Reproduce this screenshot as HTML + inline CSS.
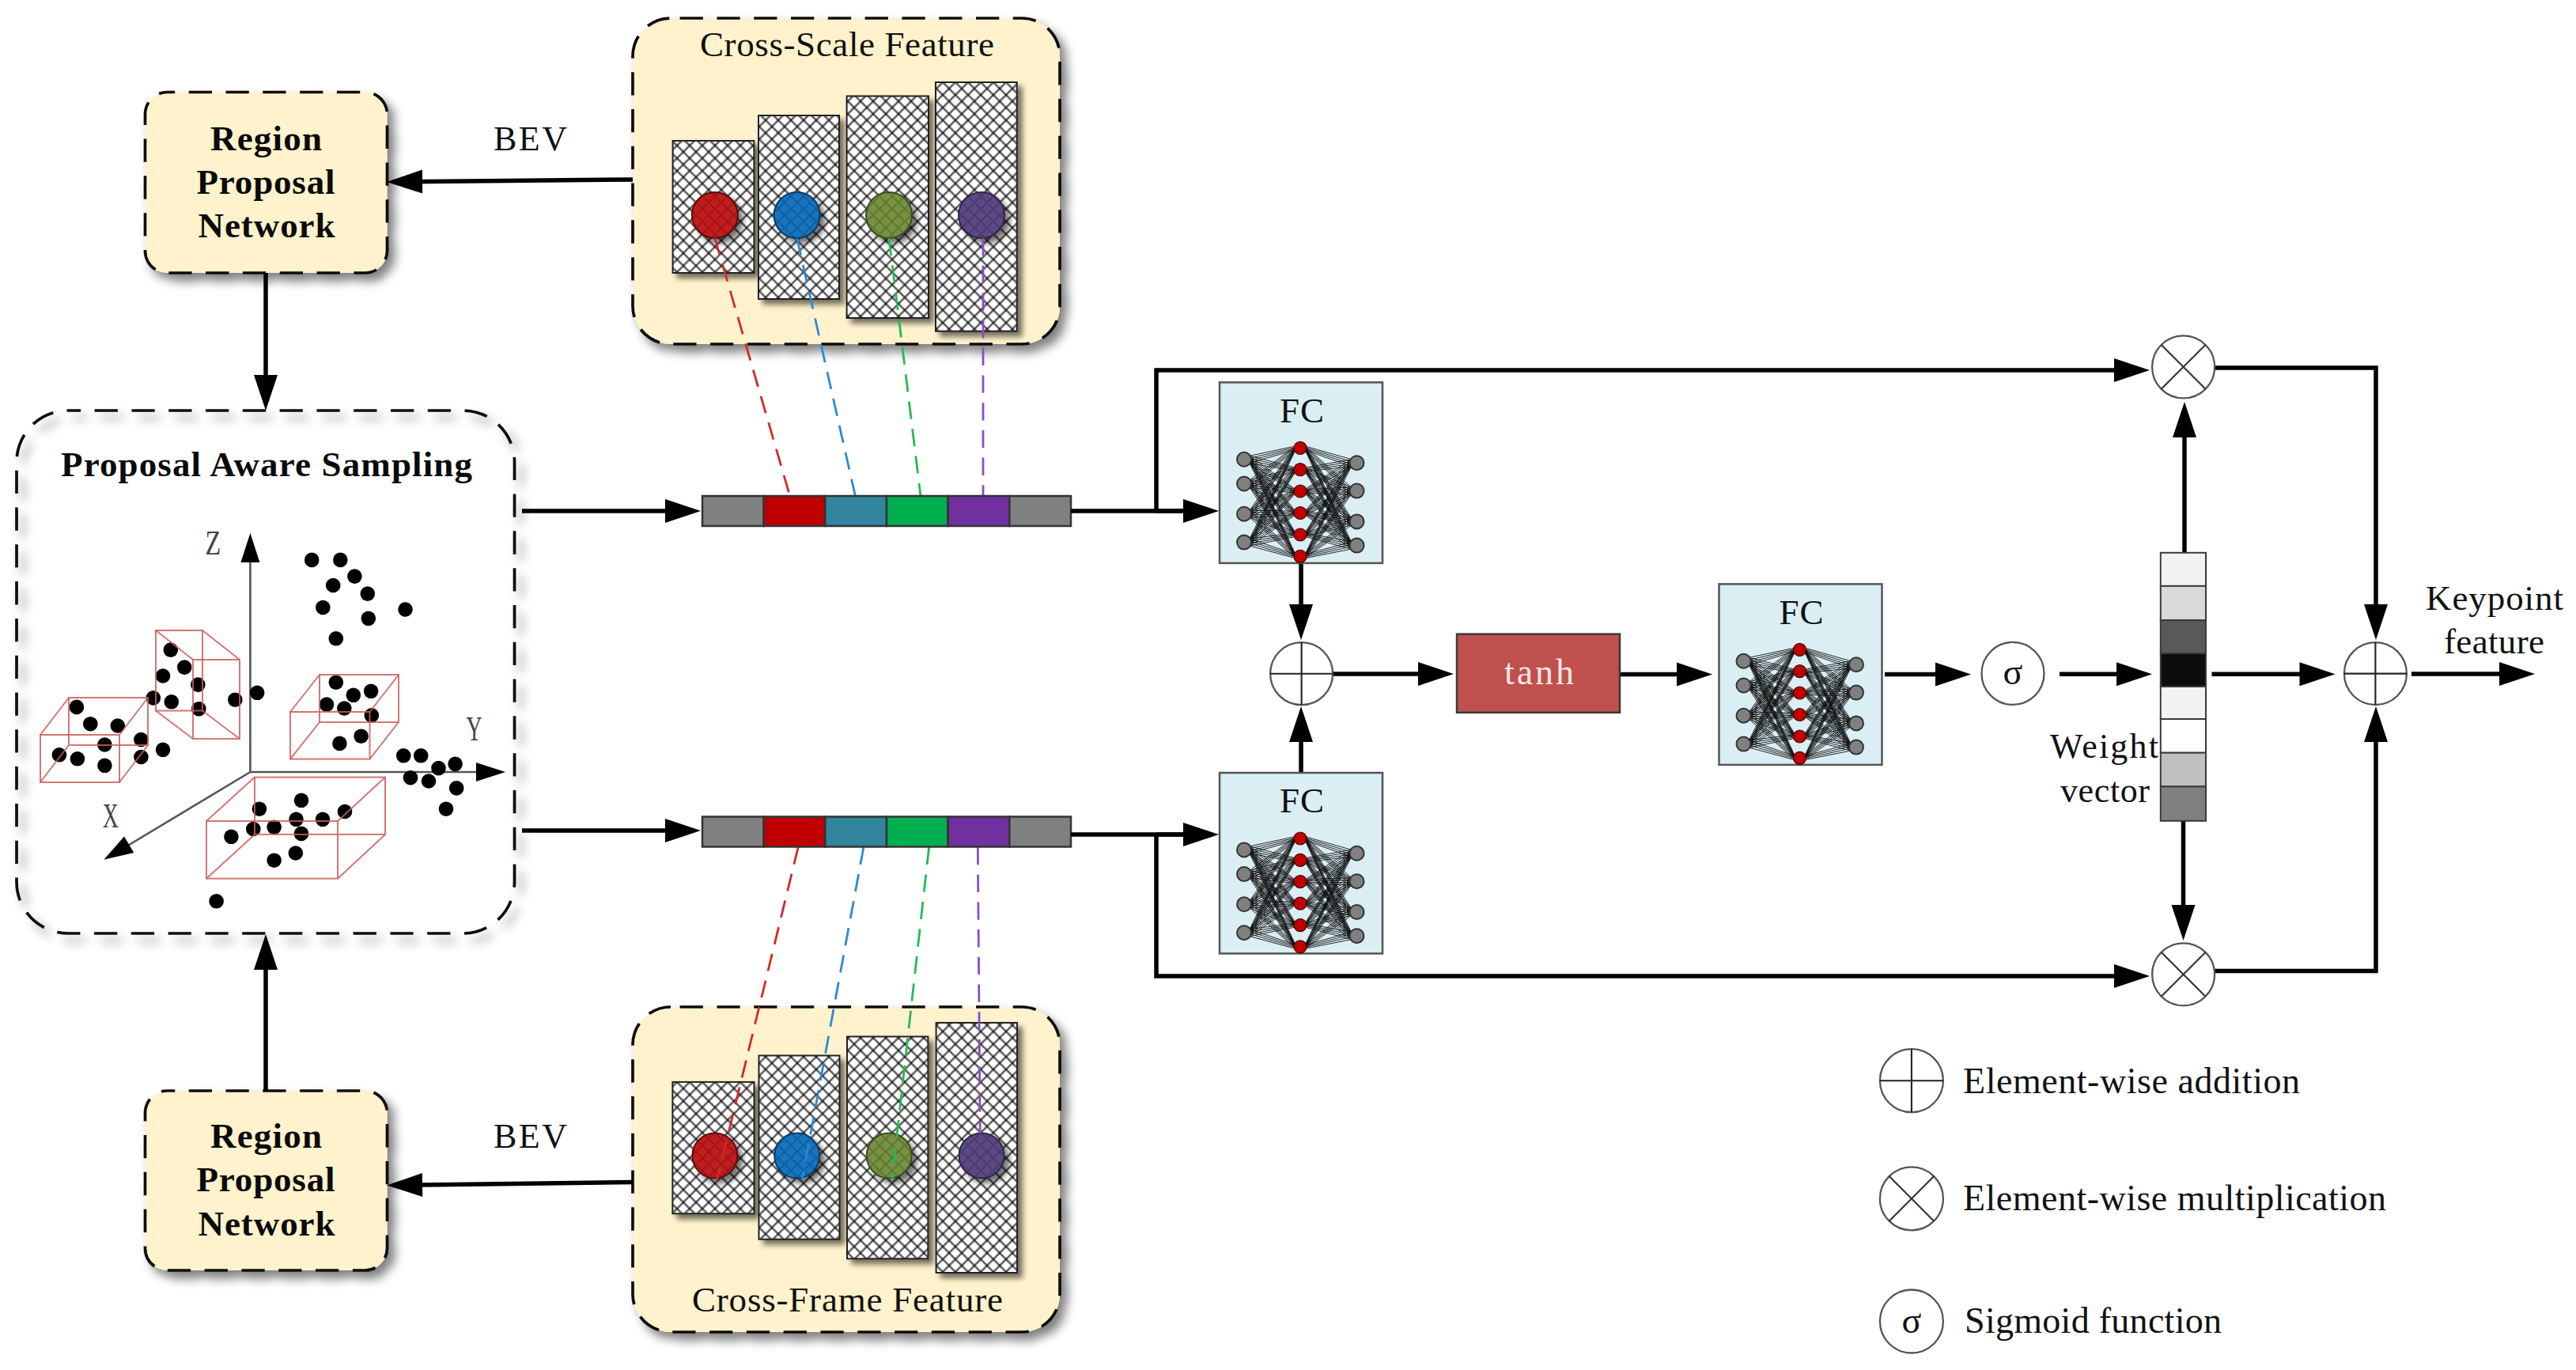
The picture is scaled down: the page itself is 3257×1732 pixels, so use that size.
<!DOCTYPE html>
<html><head><meta charset="utf-8"><title>Diagram</title>
<style>
html,body{margin:0;padding:0;background:#fff;}
body{width:3257px;height:1732px;overflow:hidden;font-family:"Liberation Serif", serif;}
svg{display:block;}
</style></head><body>
<svg width="3257" height="1732" viewBox="0 0 3257 1732">
<defs>
<pattern id="hatch" patternUnits="userSpaceOnUse" width="16" height="16">
<rect width="16" height="16" fill="#fff"/>
<path d="M0,0 L16,16 M-8,8 L8,24 M8,-8 L24,8" stroke="#000" stroke-opacity="0.58" stroke-width="2.7"/>
<path d="M16,0 L0,16 M8,-8 L-8,8 M24,8 L8,24" stroke="#000" stroke-opacity="0.58" stroke-width="2.7"/>
</pattern>
<pattern id="hatch2" patternUnits="userSpaceOnUse" width="16" height="16">
<path d="M0,0 L16,16 M16,0 L0,16 M-8,8 L8,24 M8,-8 L24,8 M8,-8 L-8,8 M24,8 L8,24" stroke="#000" stroke-opacity="0.18" stroke-width="2.2"/>
</pattern>
<filter id="sh" x="-10%" y="-10%" width="130%" height="130%">
<feGaussianBlur in="SourceAlpha" stdDeviation="6.5"/>
<feOffset dx="8" dy="9" result="o"/>
<feComponentTransfer><feFuncA type="linear" slope="0.5"/></feComponentTransfer>
<feMerge><feMergeNode/><feMergeNode in="SourceGraphic"/></feMerge>
</filter>
<filter id="sh2" x="-10%" y="-10%" width="130%" height="130%">
<feGaussianBlur in="SourceAlpha" stdDeviation="3.5"/>
<feOffset dx="6" dy="6" result="o"/>
<feComponentTransfer><feFuncA type="linear" slope="0.55"/></feComponentTransfer>
<feMerge><feMergeNode/><feMergeNode in="SourceGraphic"/></feMerge>
</filter>
</defs>
<rect width="3257" height="1732" fill="#fff"/>
<rect x="183.5" y="116.5" width="306" height="228.5" rx="28" fill="#fff2cc" stroke="#111" stroke-width="3.7" stroke-dasharray="29.3 17.5" stroke-dashoffset="19.6" filter="url(#sh)"/><rect x="183.5" y="1379" width="306" height="227" rx="28" fill="#fff2cc" stroke="#111" stroke-width="3.7" stroke-dasharray="29.3 17.5" stroke-dashoffset="19.6" filter="url(#sh)"/><rect x="800" y="23" width="540" height="412" rx="48" fill="#fff2cc" stroke="#111" stroke-width="3.7" stroke-dasharray="29.3 17.5" stroke-dashoffset="35.2" filter="url(#sh)"/><rect x="800" y="1273" width="540" height="411" rx="48" fill="#fff2cc" stroke="#111" stroke-width="3.7" stroke-dasharray="29.3 17.5" stroke-dashoffset="35.2" filter="url(#sh)"/><rect x="21" y="519" width="629.5" height="661" rx="65" fill="none" stroke="#111" stroke-width="3.7" stroke-dasharray="29.3 17.5" stroke-dashoffset="13.2" filter="url(#sh)"/><rect x="850.6" y="178" width="102.8" height="167.0" fill="url(#hatch)" stroke="#222" stroke-width="2" filter="url(#sh2)"/><rect x="959" y="146" width="102.0" height="232.0" fill="url(#hatch)" stroke="#222" stroke-width="2" filter="url(#sh2)"/><rect x="1070.6" y="121.5" width="103.4" height="280.5" fill="url(#hatch)" stroke="#222" stroke-width="2" filter="url(#sh2)"/><rect x="1183" y="104" width="102.7" height="314.7" fill="url(#hatch)" stroke="#222" stroke-width="2" filter="url(#sh2)"/><circle cx="903.8" cy="272" r="29" fill="#c41a1c" stroke="#5a0a0a" stroke-width="2" filter="url(#sh2)"/><circle cx="903.8" cy="272" r="28" fill="url(#hatch2)"/><circle cx="1007.6" cy="272" r="29" fill="#1874c1" stroke="#0b3a63" stroke-width="2" filter="url(#sh2)"/><circle cx="1007.6" cy="272" r="28" fill="url(#hatch2)"/><circle cx="1124" cy="272" r="29" fill="#779241" stroke="#3a4a20" stroke-width="2" filter="url(#sh2)"/><circle cx="1124" cy="272" r="28" fill="url(#hatch2)"/><circle cx="1241" cy="272" r="29" fill="#5b4a86" stroke="#2e2545" stroke-width="2" filter="url(#sh2)"/><circle cx="1241" cy="272" r="28" fill="url(#hatch2)"/><rect x="850.4" y="1367.9" width="103.1" height="166.4" fill="url(#hatch)" stroke="#222" stroke-width="2" filter="url(#sh2)"/><rect x="959.5" y="1334.5" width="102.0" height="232.2" fill="url(#hatch)" stroke="#222" stroke-width="2" filter="url(#sh2)"/><rect x="1071" y="1310.5" width="102.4" height="280.8" fill="url(#hatch)" stroke="#222" stroke-width="2" filter="url(#sh2)"/><rect x="1183.6" y="1293" width="102.4" height="316.0" fill="url(#hatch)" stroke="#222" stroke-width="2" filter="url(#sh2)"/><circle cx="903.9" cy="1461" r="28.5" fill="#c41a1c" stroke="#5a0a0a" stroke-width="2" filter="url(#sh2)"/><circle cx="903.9" cy="1461" r="27.5" fill="url(#hatch2)"/><circle cx="1007.7" cy="1461" r="28.5" fill="#1874c1" stroke="#0b3a63" stroke-width="2" filter="url(#sh2)"/><circle cx="1007.7" cy="1461" r="27.5" fill="url(#hatch2)"/><circle cx="1124.2" cy="1461" r="28.5" fill="#779241" stroke="#3a4a20" stroke-width="2" filter="url(#sh2)"/><circle cx="1124.2" cy="1461" r="27.5" fill="url(#hatch2)"/><circle cx="1241" cy="1461" r="28.5" fill="#5b4a86" stroke="#2e2545" stroke-width="2" filter="url(#sh2)"/><circle cx="1241" cy="1461" r="27.5" fill="url(#hatch2)"/><line x1="903.8" y1="301" x2="998.7" y2="627" stroke="#d12a2a" stroke-width="2.8" stroke-dasharray="22.3 12.4"/><line x1="1007.6" y1="301" x2="1081.4" y2="627" stroke="#2a8ad6" stroke-width="2.8" stroke-dasharray="22.3 12.4"/><line x1="1124" y1="301" x2="1164" y2="627" stroke="#22bb55" stroke-width="2.8" stroke-dasharray="22.3 12.4"/><line x1="1243" y1="301" x2="1243" y2="627" stroke="#8a4fc0" stroke-width="2.8" stroke-dasharray="22.3 12.4"/><line x1="1009.2" y1="1071" x2="906.7" y2="1491" stroke="#d12a2a" stroke-width="2.8" stroke-dasharray="22.3 12.4"/><line x1="1091.9" y1="1071" x2="1014" y2="1492" stroke="#2a8ad6" stroke-width="2.8" stroke-dasharray="22.3 12.4"/><line x1="1174.6" y1="1071" x2="1127.7" y2="1492" stroke="#22bb55" stroke-width="2.8" stroke-dasharray="22.3 12.4"/><line x1="1236.3" y1="1071" x2="1239.2" y2="1433" stroke="#8a4fc0" stroke-width="2.8" stroke-dasharray="22.3 12.4"/><rect x="888.0" y="627" width="77.7" height="38" fill="#808080" stroke="#333" stroke-width="2.5"/><rect x="965.7" y="627" width="77.7" height="38" fill="#c00000" stroke="#333" stroke-width="2.5"/><rect x="1043.3" y="627" width="77.7" height="38" fill="#31859c" stroke="#333" stroke-width="2.5"/><rect x="1121.0" y="627" width="77.7" height="38" fill="#00b050" stroke="#333" stroke-width="2.5"/><rect x="1198.7" y="627" width="77.7" height="38" fill="#7030a0" stroke="#333" stroke-width="2.5"/><rect x="1276.3" y="627" width="77.7" height="38" fill="#808080" stroke="#333" stroke-width="2.5"/><rect x="888.0" y="1032.5" width="77.7" height="38" fill="#808080" stroke="#333" stroke-width="2.5"/><rect x="965.7" y="1032.5" width="77.7" height="38" fill="#c00000" stroke="#333" stroke-width="2.5"/><rect x="1043.3" y="1032.5" width="77.7" height="38" fill="#31859c" stroke="#333" stroke-width="2.5"/><rect x="1121.0" y="1032.5" width="77.7" height="38" fill="#00b050" stroke="#333" stroke-width="2.5"/><rect x="1198.7" y="1032.5" width="77.7" height="38" fill="#7030a0" stroke="#333" stroke-width="2.5"/><rect x="1276.3" y="1032.5" width="77.7" height="38" fill="#808080" stroke="#333" stroke-width="2.5"/><line x1="316.4" y1="976" x2="316.4" y2="700" stroke="#555" stroke-width="2.6"/><polygon points="316.4,674.0 328.4,711.0 304.4,711.0" fill="#000"/><line x1="316.4" y1="976" x2="615" y2="976" stroke="#555" stroke-width="2.6"/><polygon points="639.0,976.0 602.0,988.0 602.0,964.0" fill="#000"/><line x1="316.4" y1="976" x2="150" y2="1076" stroke="#555" stroke-width="2.6"/><polygon points="131.4,1086.7 157.0,1057.4 169.3,1078.0" fill="#000"/><circle cx="394.2" cy="707.9" r="9.3" fill="#000"/><circle cx="430.3" cy="707.9" r="9.3" fill="#000"/><circle cx="448.4" cy="728.6" r="9.3" fill="#000"/><circle cx="421.2" cy="740" r="9.3" fill="#000"/><circle cx="464.8" cy="750.6" r="9.3" fill="#000"/><circle cx="408.3" cy="768" r="9.3" fill="#000"/><circle cx="512.5" cy="770.5" r="9.3" fill="#000"/><circle cx="465.8" cy="781.8" r="9.3" fill="#000"/><circle cx="424.8" cy="807.3" r="9.3" fill="#000"/><circle cx="215.8" cy="821.6" r="9.3" fill="#000"/><circle cx="233.2" cy="843.6" r="9.3" fill="#000"/><circle cx="206" cy="854.5" r="9.3" fill="#000"/><circle cx="250.3" cy="865.6" r="9.3" fill="#000"/><circle cx="193.8" cy="882.4" r="9.3" fill="#000"/><circle cx="216.8" cy="887.3" r="9.3" fill="#000"/><circle cx="251.3" cy="896.2" r="9.3" fill="#000"/><circle cx="297.3" cy="884.7" r="9.3" fill="#000"/><circle cx="325.2" cy="875.8" r="9.3" fill="#000"/><circle cx="96.9" cy="893.9" r="9.3" fill="#000"/><circle cx="114.3" cy="915.2" r="9.3" fill="#000"/><circle cx="148.8" cy="917.5" r="9.3" fill="#000"/><circle cx="178.4" cy="935" r="9.3" fill="#000"/><circle cx="132.4" cy="941.5" r="9.3" fill="#000"/><circle cx="206" cy="947.8" r="9.3" fill="#000"/><circle cx="74.9" cy="954.3" r="9.3" fill="#000"/><circle cx="97.9" cy="959.3" r="9.3" fill="#000"/><circle cx="178.4" cy="957" r="9.3" fill="#000"/><circle cx="132.4" cy="967.8" r="9.3" fill="#000"/><circle cx="424.8" cy="862.7" r="9.3" fill="#000"/><circle cx="469.1" cy="873.8" r="9.3" fill="#000"/><circle cx="446.8" cy="878.8" r="9.3" fill="#000"/><circle cx="413" cy="890.6" r="9.3" fill="#000"/><circle cx="435.3" cy="895.5" r="9.3" fill="#000"/><circle cx="469.8" cy="904.4" r="9.3" fill="#000"/><circle cx="456.6" cy="930.7" r="9.3" fill="#000"/><circle cx="429.4" cy="939.9" r="9.3" fill="#000"/><circle cx="510.2" cy="955.3" r="9.3" fill="#000"/><circle cx="532.2" cy="955.3" r="9.3" fill="#000"/><circle cx="575.6" cy="965.8" r="9.3" fill="#000"/><circle cx="554.5" cy="971.1" r="9.3" fill="#000"/><circle cx="519" cy="983.2" r="9.3" fill="#000"/><circle cx="542" cy="987.5" r="9.3" fill="#000"/><circle cx="577.2" cy="996.4" r="9.3" fill="#000"/><circle cx="564" cy="1022.7" r="9.3" fill="#000"/><circle cx="381" cy="1011.8" r="9.3" fill="#000"/><circle cx="327.9" cy="1022.7" r="9.3" fill="#000"/><circle cx="436" cy="1026" r="9.3" fill="#000"/><circle cx="374.5" cy="1035.8" r="9.3" fill="#000"/><circle cx="408" cy="1035.8" r="9.3" fill="#000"/><circle cx="320.3" cy="1048" r="9.3" fill="#000"/><circle cx="346.6" cy="1045.7" r="9.3" fill="#000"/><circle cx="381" cy="1053.9" r="9.3" fill="#000"/><circle cx="292.4" cy="1057.8" r="9.3" fill="#000"/><circle cx="373.8" cy="1078.5" r="9.3" fill="#000"/><circle cx="346.6" cy="1087.7" r="9.3" fill="#000"/><circle cx="273.6" cy="1139.3" r="9.3" fill="#000"/><g stroke-opacity="0.85"><rect x="51" y="929" width="100.0" height="60.0" fill="none" stroke="#c9605c" stroke-width="2"/><rect x="87" y="882" width="100.0" height="60.0" fill="none" stroke="#c9605c" stroke-width="2"/><line x1="51" y1="929" x2="87" y2="882" stroke="#c9605c" stroke-width="2"/><line x1="151" y1="929" x2="187" y2="882" stroke="#c9605c" stroke-width="2"/><line x1="51" y1="989" x2="87" y2="942" stroke="#c9605c" stroke-width="2"/><line x1="151" y1="989" x2="187" y2="942" stroke="#c9605c" stroke-width="2"/><rect x="197" y="797" width="59.0" height="101.5" fill="none" stroke="#c9605c" stroke-width="2"/><rect x="244" y="834" width="59.0" height="100.0" fill="none" stroke="#c9605c" stroke-width="2"/><line x1="197" y1="797" x2="244" y2="834" stroke="#c9605c" stroke-width="2"/><line x1="256" y1="797" x2="303" y2="834" stroke="#c9605c" stroke-width="2"/><line x1="197" y1="898.5" x2="244" y2="934" stroke="#c9605c" stroke-width="2"/><line x1="256" y1="898.5" x2="303" y2="934" stroke="#c9605c" stroke-width="2"/><rect x="404" y="853" width="100.0" height="60.0" fill="none" stroke="#c9605c" stroke-width="2"/><rect x="367" y="900" width="100.5" height="59.6" fill="none" stroke="#c9605c" stroke-width="2"/><line x1="404" y1="853" x2="367" y2="900" stroke="#c9605c" stroke-width="2"/><line x1="504" y1="853" x2="467.5" y2="900" stroke="#c9605c" stroke-width="2"/><line x1="404" y1="913" x2="367" y2="959.6" stroke="#c9605c" stroke-width="2"/><line x1="504" y1="913" x2="467.5" y2="959.6" stroke="#c9605c" stroke-width="2"/><rect x="322" y="982.6" width="165.0" height="72.3" fill="none" stroke="#c9605c" stroke-width="2"/><rect x="261" y="1038" width="166.0" height="72.7" fill="none" stroke="#c9605c" stroke-width="2"/><line x1="322" y1="982.6" x2="261" y2="1038" stroke="#c9605c" stroke-width="2"/><line x1="487" y1="982.6" x2="427" y2="1038" stroke="#c9605c" stroke-width="2"/><line x1="322" y1="1054.9" x2="261" y2="1110.7" stroke="#c9605c" stroke-width="2"/><line x1="487" y1="1054.9" x2="427" y2="1110.7" stroke="#c9605c" stroke-width="2"/></g><text transform="translate(269.3,701) scale(0.72,1)" font-family='"Liberation Serif", serif' font-size="45" text-anchor="middle" fill="#444">Z</text><text transform="translate(599.5,935.5) scale(0.62,1)" font-family='"Liberation Serif", serif' font-size="45" text-anchor="middle" fill="#444">Y</text><text transform="translate(139.7,1045.6) scale(0.62,1)" font-family='"Liberation Serif", serif' font-size="45" text-anchor="middle" fill="#444">X</text><polyline points="800.0,227.0 516.0,229.7" fill="none" stroke="#000" stroke-width="5.5" stroke-linejoin="miter" stroke-linecap="butt"/><polygon points="489.0,230.0 533.9,214.6 534.1,244.6" fill="#000"/><polyline points="336.0,345.0 336.0,492.0" fill="none" stroke="#000" stroke-width="5.5" stroke-linejoin="miter" stroke-linecap="butt"/><polygon points="336.0,519.0 321.0,474.0 351.0,474.0" fill="#000"/><polyline points="800.0,1494.5 516.0,1498.2" fill="none" stroke="#000" stroke-width="5.5" stroke-linejoin="miter" stroke-linecap="butt"/><polygon points="489.0,1498.5 533.8,1482.9 534.2,1512.9" fill="#000"/><polyline points="336.0,1379.0 336.0,1208.0" fill="none" stroke="#000" stroke-width="5.5" stroke-linejoin="miter" stroke-linecap="butt"/><polygon points="336.0,1181.0 351.0,1226.0 321.0,1226.0" fill="#000"/><polyline points="660.0,646.0 859.0,646.0" fill="none" stroke="#000" stroke-width="5.5" stroke-linejoin="miter" stroke-linecap="butt"/><polygon points="886.0,646.0 841.0,661.0 841.0,631.0" fill="#000"/><polyline points="660.0,1050.0 859.0,1050.0" fill="none" stroke="#000" stroke-width="5.5" stroke-linejoin="miter" stroke-linecap="butt"/><polygon points="886.0,1050.0 841.0,1065.0 841.0,1035.0" fill="#000"/><polyline points="1354.0,646.0 1500.0,646.0" fill="none" stroke="#000" stroke-width="5.5" stroke-linejoin="miter"/><polyline points="1462.0,646.0 1514.0,646.0" fill="none" stroke="#000" stroke-width="5.5" stroke-linejoin="miter" stroke-linecap="butt"/><polygon points="1541.0,646.0 1496.0,661.0 1496.0,631.0" fill="#000"/><polyline points="1462.0,646.0 1462.0,468.0 2691.0,468.0" fill="none" stroke="#000" stroke-width="5.5" stroke-linejoin="miter" stroke-linecap="butt"/><polygon points="2718.0,468.0 2673.0,483.0 2673.0,453.0" fill="#000"/><polyline points="1354.0,1055.0 1500.0,1055.0" fill="none" stroke="#000" stroke-width="5.5" stroke-linejoin="miter"/><polyline points="1462.0,1055.0 1514.0,1055.0" fill="none" stroke="#000" stroke-width="5.5" stroke-linejoin="miter" stroke-linecap="butt"/><polygon points="1541.0,1055.0 1496.0,1070.0 1496.0,1040.0" fill="#000"/><polyline points="1462.0,1055.0 1462.0,1234.0 2691.0,1234.0" fill="none" stroke="#000" stroke-width="5.5" stroke-linejoin="miter" stroke-linecap="butt"/><polygon points="2718.0,1234.0 2673.0,1249.0 2673.0,1219.0" fill="#000"/><polyline points="1645.0,712.0 1645.0,782.0" fill="none" stroke="#000" stroke-width="5.5" stroke-linejoin="miter" stroke-linecap="butt"/><polygon points="1645.0,809.0 1630.0,764.0 1660.0,764.0" fill="#000"/><polyline points="1645.0,977.0 1645.0,920.0" fill="none" stroke="#000" stroke-width="5.5" stroke-linejoin="miter" stroke-linecap="butt"/><polygon points="1645.0,893.0 1660.0,938.0 1630.0,938.0" fill="#000"/><polyline points="1684.0,852.0 1811.0,852.0" fill="none" stroke="#000" stroke-width="5.5" stroke-linejoin="miter" stroke-linecap="butt"/><polygon points="1838.0,852.0 1793.0,867.0 1793.0,837.0" fill="#000"/><polyline points="2048.0,852.6 2138.0,852.6" fill="none" stroke="#000" stroke-width="5.5" stroke-linejoin="miter" stroke-linecap="butt"/><polygon points="2165.0,852.6 2120.0,867.6 2120.0,837.6" fill="#000"/><polyline points="2383.0,852.6 2465.0,852.6" fill="none" stroke="#000" stroke-width="5.5" stroke-linejoin="miter" stroke-linecap="butt"/><polygon points="2492.0,852.6 2447.0,867.6 2447.0,837.6" fill="#000"/><polyline points="2604.0,852.2 2694.0,852.2" fill="none" stroke="#000" stroke-width="5.5" stroke-linejoin="miter" stroke-linecap="butt"/><polygon points="2721.0,852.2 2676.0,867.2 2676.0,837.2" fill="#000"/><polyline points="2796.5,852.2 2925.5,852.2" fill="none" stroke="#000" stroke-width="5.5" stroke-linejoin="miter" stroke-linecap="butt"/><polygon points="2952.5,852.2 2907.5,867.2 2907.5,837.2" fill="#000"/><polyline points="3049.0,852.0 3178.0,852.0" fill="none" stroke="#000" stroke-width="5.5" stroke-linejoin="miter" stroke-linecap="butt"/><polygon points="3205.0,852.0 3160.0,867.0 3160.0,837.0" fill="#000"/><polyline points="2762.0,699.0 2762.0,535.0" fill="none" stroke="#000" stroke-width="5.5" stroke-linejoin="miter" stroke-linecap="butt"/><polygon points="2762.0,508.0 2777.0,553.0 2747.0,553.0" fill="#000"/><polyline points="2760.5,1038.0 2760.5,1162.0" fill="none" stroke="#000" stroke-width="5.5" stroke-linejoin="miter" stroke-linecap="butt"/><polygon points="2760.5,1189.0 2745.5,1144.0 2775.5,1144.0" fill="#000"/><polyline points="2799.0,465.0 3004.0,465.0 3004.0,782.0" fill="none" stroke="#000" stroke-width="5.5" stroke-linejoin="miter" stroke-linecap="butt"/><polygon points="3004.0,809.0 2989.0,764.0 3019.0,764.0" fill="#000"/><polyline points="2799.0,1227.5 3004.0,1227.5 3004.0,920.0" fill="none" stroke="#000" stroke-width="5.5" stroke-linejoin="miter" stroke-linecap="butt"/><polygon points="3004.0,893.0 3019.0,938.0 2989.0,938.0" fill="#000"/><rect x="1542" y="483.4" width="206" height="228.5" fill="#daeef3" stroke="#555" stroke-width="2.5"/><text x="1618" y="533.8" font-family='"Liberation Serif", serif' font-size="45" font-weight="normal" text-anchor="start" fill="#111" textLength="56" lengthAdjust="spacing" >FC</text><path d="M1580.0,576.3L1638.0,564.0M1580.0,579.3L1638.0,565.6M1580.0,582.3L1638.0,567.2M1580.0,585.3L1638.0,568.8M1580.0,576.3L1638.0,591.3M1580.0,579.3L1638.0,592.9M1580.0,582.3L1638.0,594.5M1580.0,585.3L1638.0,596.1M1580.0,576.3L1638.0,618.6M1580.0,579.3L1638.0,620.2M1580.0,582.3L1638.0,621.8M1580.0,585.3L1638.0,623.4M1580.0,576.3L1638.0,646.1M1580.0,579.3L1638.0,647.7M1580.0,582.3L1638.0,649.3M1580.0,585.3L1638.0,650.9M1580.0,576.3L1638.0,673.6M1580.0,579.3L1638.0,675.2M1580.0,582.3L1638.0,676.8M1580.0,585.3L1638.0,678.4M1580.0,576.3L1638.0,700.9M1580.0,579.3L1638.0,702.5M1580.0,582.3L1638.0,704.1M1580.0,585.3L1638.0,705.7M1580.0,607.0L1638.0,564.0M1580.0,610.0L1638.0,565.6M1580.0,613.0L1638.0,567.2M1580.0,616.0L1638.0,568.8M1580.0,607.0L1638.0,591.3M1580.0,610.0L1638.0,592.9M1580.0,613.0L1638.0,594.5M1580.0,616.0L1638.0,596.1M1580.0,607.0L1638.0,618.6M1580.0,610.0L1638.0,620.2M1580.0,613.0L1638.0,621.8M1580.0,616.0L1638.0,623.4M1580.0,607.0L1638.0,646.1M1580.0,610.0L1638.0,647.7M1580.0,613.0L1638.0,649.3M1580.0,616.0L1638.0,650.9M1580.0,607.0L1638.0,673.6M1580.0,610.0L1638.0,675.2M1580.0,613.0L1638.0,676.8M1580.0,616.0L1638.0,678.4M1580.0,607.0L1638.0,700.9M1580.0,610.0L1638.0,702.5M1580.0,613.0L1638.0,704.1M1580.0,616.0L1638.0,705.7M1580.0,645.2L1638.0,564.0M1580.0,648.2L1638.0,565.6M1580.0,651.2L1638.0,567.2M1580.0,654.2L1638.0,568.8M1580.0,645.2L1638.0,591.3M1580.0,648.2L1638.0,592.9M1580.0,651.2L1638.0,594.5M1580.0,654.2L1638.0,596.1M1580.0,645.2L1638.0,618.6M1580.0,648.2L1638.0,620.2M1580.0,651.2L1638.0,621.8M1580.0,654.2L1638.0,623.4M1580.0,645.2L1638.0,646.1M1580.0,648.2L1638.0,647.7M1580.0,651.2L1638.0,649.3M1580.0,654.2L1638.0,650.9M1580.0,645.2L1638.0,673.6M1580.0,648.2L1638.0,675.2M1580.0,651.2L1638.0,676.8M1580.0,654.2L1638.0,678.4M1580.0,645.2L1638.0,700.9M1580.0,648.2L1638.0,702.5M1580.0,651.2L1638.0,704.1M1580.0,654.2L1638.0,705.7M1580.0,681.1L1638.0,564.0M1580.0,684.1L1638.0,565.6M1580.0,687.1L1638.0,567.2M1580.0,690.1L1638.0,568.8M1580.0,681.1L1638.0,591.3M1580.0,684.1L1638.0,592.9M1580.0,687.1L1638.0,594.5M1580.0,690.1L1638.0,596.1M1580.0,681.1L1638.0,618.6M1580.0,684.1L1638.0,620.2M1580.0,687.1L1638.0,621.8M1580.0,690.1L1638.0,623.4M1580.0,681.1L1638.0,646.1M1580.0,684.1L1638.0,647.7M1580.0,687.1L1638.0,649.3M1580.0,690.1L1638.0,650.9M1580.0,681.1L1638.0,673.6M1580.0,684.1L1638.0,675.2M1580.0,687.1L1638.0,676.8M1580.0,690.1L1638.0,678.4M1580.0,681.1L1638.0,700.9M1580.0,684.1L1638.0,702.5M1580.0,687.1L1638.0,704.1M1580.0,690.1L1638.0,705.7M1650.0,564.0L1708.5,580.7M1650.0,565.6L1708.5,583.7M1650.0,567.2L1708.5,586.7M1650.0,568.8L1708.5,589.7M1650.0,564.0L1708.5,616.1M1650.0,565.6L1708.5,619.1M1650.0,567.2L1708.5,622.1M1650.0,568.8L1708.5,625.1M1650.0,564.0L1708.5,654.9M1650.0,565.6L1708.5,657.9M1650.0,567.2L1708.5,660.9M1650.0,568.8L1708.5,663.9M1650.0,564.0L1708.5,685.1M1650.0,565.6L1708.5,688.1M1650.0,567.2L1708.5,691.1M1650.0,568.8L1708.5,694.1M1650.0,591.3L1708.5,580.7M1650.0,592.9L1708.5,583.7M1650.0,594.5L1708.5,586.7M1650.0,596.1L1708.5,589.7M1650.0,591.3L1708.5,616.1M1650.0,592.9L1708.5,619.1M1650.0,594.5L1708.5,622.1M1650.0,596.1L1708.5,625.1M1650.0,591.3L1708.5,654.9M1650.0,592.9L1708.5,657.9M1650.0,594.5L1708.5,660.9M1650.0,596.1L1708.5,663.9M1650.0,591.3L1708.5,685.1M1650.0,592.9L1708.5,688.1M1650.0,594.5L1708.5,691.1M1650.0,596.1L1708.5,694.1M1650.0,618.6L1708.5,580.7M1650.0,620.2L1708.5,583.7M1650.0,621.8L1708.5,586.7M1650.0,623.4L1708.5,589.7M1650.0,618.6L1708.5,616.1M1650.0,620.2L1708.5,619.1M1650.0,621.8L1708.5,622.1M1650.0,623.4L1708.5,625.1M1650.0,618.6L1708.5,654.9M1650.0,620.2L1708.5,657.9M1650.0,621.8L1708.5,660.9M1650.0,623.4L1708.5,663.9M1650.0,618.6L1708.5,685.1M1650.0,620.2L1708.5,688.1M1650.0,621.8L1708.5,691.1M1650.0,623.4L1708.5,694.1M1650.0,646.1L1708.5,580.7M1650.0,647.7L1708.5,583.7M1650.0,649.3L1708.5,586.7M1650.0,650.9L1708.5,589.7M1650.0,646.1L1708.5,616.1M1650.0,647.7L1708.5,619.1M1650.0,649.3L1708.5,622.1M1650.0,650.9L1708.5,625.1M1650.0,646.1L1708.5,654.9M1650.0,647.7L1708.5,657.9M1650.0,649.3L1708.5,660.9M1650.0,650.9L1708.5,663.9M1650.0,646.1L1708.5,685.1M1650.0,647.7L1708.5,688.1M1650.0,649.3L1708.5,691.1M1650.0,650.9L1708.5,694.1M1650.0,673.6L1708.5,580.7M1650.0,675.2L1708.5,583.7M1650.0,676.8L1708.5,586.7M1650.0,678.4L1708.5,589.7M1650.0,673.6L1708.5,616.1M1650.0,675.2L1708.5,619.1M1650.0,676.8L1708.5,622.1M1650.0,678.4L1708.5,625.1M1650.0,673.6L1708.5,654.9M1650.0,675.2L1708.5,657.9M1650.0,676.8L1708.5,660.9M1650.0,678.4L1708.5,663.9M1650.0,673.6L1708.5,685.1M1650.0,675.2L1708.5,688.1M1650.0,676.8L1708.5,691.1M1650.0,678.4L1708.5,694.1M1650.0,700.9L1708.5,580.7M1650.0,702.5L1708.5,583.7M1650.0,704.1L1708.5,586.7M1650.0,705.7L1708.5,589.7M1650.0,700.9L1708.5,616.1M1650.0,702.5L1708.5,619.1M1650.0,704.1L1708.5,622.1M1650.0,705.7L1708.5,625.1M1650.0,700.9L1708.5,654.9M1650.0,702.5L1708.5,657.9M1650.0,704.1L1708.5,660.9M1650.0,705.7L1708.5,663.9M1650.0,700.9L1708.5,685.1M1650.0,702.5L1708.5,688.1M1650.0,704.1L1708.5,691.1M1650.0,705.7L1708.5,694.1" stroke="#0e0e0e" stroke-width="0.95" fill="none" stroke-opacity="0.95"/><circle cx="1573" cy="580.8" r="9" fill="#808080" stroke="#333" stroke-width="2"/><circle cx="1573" cy="611.5" r="9" fill="#808080" stroke="#333" stroke-width="2"/><circle cx="1573" cy="649.7" r="9" fill="#808080" stroke="#333" stroke-width="2"/><circle cx="1573" cy="685.5999999999999" r="9" fill="#808080" stroke="#333" stroke-width="2"/><circle cx="1715.5" cy="585.1999999999999" r="9" fill="#808080" stroke="#333" stroke-width="2"/><circle cx="1715.5" cy="620.5999999999999" r="9" fill="#808080" stroke="#333" stroke-width="2"/><circle cx="1715.5" cy="659.4" r="9" fill="#808080" stroke="#333" stroke-width="2"/><circle cx="1715.5" cy="689.5999999999999" r="9" fill="#808080" stroke="#333" stroke-width="2"/><circle cx="1644" cy="566.4" r="8" fill="#c00000" stroke="#400" stroke-width="1.2"/><circle cx="1644" cy="593.6999999999999" r="8" fill="#c00000" stroke="#400" stroke-width="1.2"/><circle cx="1644" cy="621.0" r="8" fill="#c00000" stroke="#400" stroke-width="1.2"/><circle cx="1644" cy="648.5" r="8" fill="#c00000" stroke="#400" stroke-width="1.2"/><circle cx="1644" cy="676.0" r="8" fill="#c00000" stroke="#400" stroke-width="1.2"/><circle cx="1644" cy="703.3" r="8" fill="#c00000" stroke="#400" stroke-width="1.2"/><rect x="1542" y="977" width="206" height="228.5" fill="#daeef3" stroke="#555" stroke-width="2.5"/><text x="1618" y="1027.4" font-family='"Liberation Serif", serif' font-size="45" font-weight="normal" text-anchor="start" fill="#111" textLength="56" lengthAdjust="spacing" >FC</text><path d="M1580.0,1069.9L1638.0,1057.6M1580.0,1072.9L1638.0,1059.2M1580.0,1075.9L1638.0,1060.8M1580.0,1078.9L1638.0,1062.4M1580.0,1069.9L1638.0,1084.9M1580.0,1072.9L1638.0,1086.5M1580.0,1075.9L1638.0,1088.1M1580.0,1078.9L1638.0,1089.7M1580.0,1069.9L1638.0,1112.2M1580.0,1072.9L1638.0,1113.8M1580.0,1075.9L1638.0,1115.4M1580.0,1078.9L1638.0,1117.0M1580.0,1069.9L1638.0,1139.7M1580.0,1072.9L1638.0,1141.3M1580.0,1075.9L1638.0,1142.9M1580.0,1078.9L1638.0,1144.5M1580.0,1069.9L1638.0,1167.2M1580.0,1072.9L1638.0,1168.8M1580.0,1075.9L1638.0,1170.4M1580.0,1078.9L1638.0,1172.0M1580.0,1069.9L1638.0,1194.5M1580.0,1072.9L1638.0,1196.1M1580.0,1075.9L1638.0,1197.7M1580.0,1078.9L1638.0,1199.3M1580.0,1100.6L1638.0,1057.6M1580.0,1103.6L1638.0,1059.2M1580.0,1106.6L1638.0,1060.8M1580.0,1109.6L1638.0,1062.4M1580.0,1100.6L1638.0,1084.9M1580.0,1103.6L1638.0,1086.5M1580.0,1106.6L1638.0,1088.1M1580.0,1109.6L1638.0,1089.7M1580.0,1100.6L1638.0,1112.2M1580.0,1103.6L1638.0,1113.8M1580.0,1106.6L1638.0,1115.4M1580.0,1109.6L1638.0,1117.0M1580.0,1100.6L1638.0,1139.7M1580.0,1103.6L1638.0,1141.3M1580.0,1106.6L1638.0,1142.9M1580.0,1109.6L1638.0,1144.5M1580.0,1100.6L1638.0,1167.2M1580.0,1103.6L1638.0,1168.8M1580.0,1106.6L1638.0,1170.4M1580.0,1109.6L1638.0,1172.0M1580.0,1100.6L1638.0,1194.5M1580.0,1103.6L1638.0,1196.1M1580.0,1106.6L1638.0,1197.7M1580.0,1109.6L1638.0,1199.3M1580.0,1138.8L1638.0,1057.6M1580.0,1141.8L1638.0,1059.2M1580.0,1144.8L1638.0,1060.8M1580.0,1147.8L1638.0,1062.4M1580.0,1138.8L1638.0,1084.9M1580.0,1141.8L1638.0,1086.5M1580.0,1144.8L1638.0,1088.1M1580.0,1147.8L1638.0,1089.7M1580.0,1138.8L1638.0,1112.2M1580.0,1141.8L1638.0,1113.8M1580.0,1144.8L1638.0,1115.4M1580.0,1147.8L1638.0,1117.0M1580.0,1138.8L1638.0,1139.7M1580.0,1141.8L1638.0,1141.3M1580.0,1144.8L1638.0,1142.9M1580.0,1147.8L1638.0,1144.5M1580.0,1138.8L1638.0,1167.2M1580.0,1141.8L1638.0,1168.8M1580.0,1144.8L1638.0,1170.4M1580.0,1147.8L1638.0,1172.0M1580.0,1138.8L1638.0,1194.5M1580.0,1141.8L1638.0,1196.1M1580.0,1144.8L1638.0,1197.7M1580.0,1147.8L1638.0,1199.3M1580.0,1174.7L1638.0,1057.6M1580.0,1177.7L1638.0,1059.2M1580.0,1180.7L1638.0,1060.8M1580.0,1183.7L1638.0,1062.4M1580.0,1174.7L1638.0,1084.9M1580.0,1177.7L1638.0,1086.5M1580.0,1180.7L1638.0,1088.1M1580.0,1183.7L1638.0,1089.7M1580.0,1174.7L1638.0,1112.2M1580.0,1177.7L1638.0,1113.8M1580.0,1180.7L1638.0,1115.4M1580.0,1183.7L1638.0,1117.0M1580.0,1174.7L1638.0,1139.7M1580.0,1177.7L1638.0,1141.3M1580.0,1180.7L1638.0,1142.9M1580.0,1183.7L1638.0,1144.5M1580.0,1174.7L1638.0,1167.2M1580.0,1177.7L1638.0,1168.8M1580.0,1180.7L1638.0,1170.4M1580.0,1183.7L1638.0,1172.0M1580.0,1174.7L1638.0,1194.5M1580.0,1177.7L1638.0,1196.1M1580.0,1180.7L1638.0,1197.7M1580.0,1183.7L1638.0,1199.3M1650.0,1057.6L1708.5,1074.3M1650.0,1059.2L1708.5,1077.3M1650.0,1060.8L1708.5,1080.3M1650.0,1062.4L1708.5,1083.3M1650.0,1057.6L1708.5,1109.7M1650.0,1059.2L1708.5,1112.7M1650.0,1060.8L1708.5,1115.7M1650.0,1062.4L1708.5,1118.7M1650.0,1057.6L1708.5,1148.5M1650.0,1059.2L1708.5,1151.5M1650.0,1060.8L1708.5,1154.5M1650.0,1062.4L1708.5,1157.5M1650.0,1057.6L1708.5,1178.7M1650.0,1059.2L1708.5,1181.7M1650.0,1060.8L1708.5,1184.7M1650.0,1062.4L1708.5,1187.7M1650.0,1084.9L1708.5,1074.3M1650.0,1086.5L1708.5,1077.3M1650.0,1088.1L1708.5,1080.3M1650.0,1089.7L1708.5,1083.3M1650.0,1084.9L1708.5,1109.7M1650.0,1086.5L1708.5,1112.7M1650.0,1088.1L1708.5,1115.7M1650.0,1089.7L1708.5,1118.7M1650.0,1084.9L1708.5,1148.5M1650.0,1086.5L1708.5,1151.5M1650.0,1088.1L1708.5,1154.5M1650.0,1089.7L1708.5,1157.5M1650.0,1084.9L1708.5,1178.7M1650.0,1086.5L1708.5,1181.7M1650.0,1088.1L1708.5,1184.7M1650.0,1089.7L1708.5,1187.7M1650.0,1112.2L1708.5,1074.3M1650.0,1113.8L1708.5,1077.3M1650.0,1115.4L1708.5,1080.3M1650.0,1117.0L1708.5,1083.3M1650.0,1112.2L1708.5,1109.7M1650.0,1113.8L1708.5,1112.7M1650.0,1115.4L1708.5,1115.7M1650.0,1117.0L1708.5,1118.7M1650.0,1112.2L1708.5,1148.5M1650.0,1113.8L1708.5,1151.5M1650.0,1115.4L1708.5,1154.5M1650.0,1117.0L1708.5,1157.5M1650.0,1112.2L1708.5,1178.7M1650.0,1113.8L1708.5,1181.7M1650.0,1115.4L1708.5,1184.7M1650.0,1117.0L1708.5,1187.7M1650.0,1139.7L1708.5,1074.3M1650.0,1141.3L1708.5,1077.3M1650.0,1142.9L1708.5,1080.3M1650.0,1144.5L1708.5,1083.3M1650.0,1139.7L1708.5,1109.7M1650.0,1141.3L1708.5,1112.7M1650.0,1142.9L1708.5,1115.7M1650.0,1144.5L1708.5,1118.7M1650.0,1139.7L1708.5,1148.5M1650.0,1141.3L1708.5,1151.5M1650.0,1142.9L1708.5,1154.5M1650.0,1144.5L1708.5,1157.5M1650.0,1139.7L1708.5,1178.7M1650.0,1141.3L1708.5,1181.7M1650.0,1142.9L1708.5,1184.7M1650.0,1144.5L1708.5,1187.7M1650.0,1167.2L1708.5,1074.3M1650.0,1168.8L1708.5,1077.3M1650.0,1170.4L1708.5,1080.3M1650.0,1172.0L1708.5,1083.3M1650.0,1167.2L1708.5,1109.7M1650.0,1168.8L1708.5,1112.7M1650.0,1170.4L1708.5,1115.7M1650.0,1172.0L1708.5,1118.7M1650.0,1167.2L1708.5,1148.5M1650.0,1168.8L1708.5,1151.5M1650.0,1170.4L1708.5,1154.5M1650.0,1172.0L1708.5,1157.5M1650.0,1167.2L1708.5,1178.7M1650.0,1168.8L1708.5,1181.7M1650.0,1170.4L1708.5,1184.7M1650.0,1172.0L1708.5,1187.7M1650.0,1194.5L1708.5,1074.3M1650.0,1196.1L1708.5,1077.3M1650.0,1197.7L1708.5,1080.3M1650.0,1199.3L1708.5,1083.3M1650.0,1194.5L1708.5,1109.7M1650.0,1196.1L1708.5,1112.7M1650.0,1197.7L1708.5,1115.7M1650.0,1199.3L1708.5,1118.7M1650.0,1194.5L1708.5,1148.5M1650.0,1196.1L1708.5,1151.5M1650.0,1197.7L1708.5,1154.5M1650.0,1199.3L1708.5,1157.5M1650.0,1194.5L1708.5,1178.7M1650.0,1196.1L1708.5,1181.7M1650.0,1197.7L1708.5,1184.7M1650.0,1199.3L1708.5,1187.7" stroke="#0e0e0e" stroke-width="0.95" fill="none" stroke-opacity="0.95"/><circle cx="1573" cy="1074.4" r="9" fill="#808080" stroke="#333" stroke-width="2"/><circle cx="1573" cy="1105.1" r="9" fill="#808080" stroke="#333" stroke-width="2"/><circle cx="1573" cy="1143.3" r="9" fill="#808080" stroke="#333" stroke-width="2"/><circle cx="1573" cy="1179.2" r="9" fill="#808080" stroke="#333" stroke-width="2"/><circle cx="1715.5" cy="1078.8" r="9" fill="#808080" stroke="#333" stroke-width="2"/><circle cx="1715.5" cy="1114.2" r="9" fill="#808080" stroke="#333" stroke-width="2"/><circle cx="1715.5" cy="1153" r="9" fill="#808080" stroke="#333" stroke-width="2"/><circle cx="1715.5" cy="1183.2" r="9" fill="#808080" stroke="#333" stroke-width="2"/><circle cx="1644" cy="1060" r="8" fill="#c00000" stroke="#400" stroke-width="1.2"/><circle cx="1644" cy="1087.3" r="8" fill="#c00000" stroke="#400" stroke-width="1.2"/><circle cx="1644" cy="1114.6" r="8" fill="#c00000" stroke="#400" stroke-width="1.2"/><circle cx="1644" cy="1142.1" r="8" fill="#c00000" stroke="#400" stroke-width="1.2"/><circle cx="1644" cy="1169.6" r="8" fill="#c00000" stroke="#400" stroke-width="1.2"/><circle cx="1644" cy="1196.9" r="8" fill="#c00000" stroke="#400" stroke-width="1.2"/><rect x="2173.5" y="738.4" width="206" height="228.5" fill="#daeef3" stroke="#555" stroke-width="2.5"/><text x="2249.5" y="788.8" font-family='"Liberation Serif", serif' font-size="45" font-weight="normal" text-anchor="start" fill="#111" textLength="56" lengthAdjust="spacing" >FC</text><path d="M2211.5,831.3L2269.5,819.0M2211.5,834.3L2269.5,820.6M2211.5,837.3L2269.5,822.2M2211.5,840.3L2269.5,823.8M2211.5,831.3L2269.5,846.3M2211.5,834.3L2269.5,847.9M2211.5,837.3L2269.5,849.5M2211.5,840.3L2269.5,851.1M2211.5,831.3L2269.5,873.6M2211.5,834.3L2269.5,875.2M2211.5,837.3L2269.5,876.8M2211.5,840.3L2269.5,878.4M2211.5,831.3L2269.5,901.1M2211.5,834.3L2269.5,902.7M2211.5,837.3L2269.5,904.3M2211.5,840.3L2269.5,905.9M2211.5,831.3L2269.5,928.6M2211.5,834.3L2269.5,930.2M2211.5,837.3L2269.5,931.8M2211.5,840.3L2269.5,933.4M2211.5,831.3L2269.5,955.9M2211.5,834.3L2269.5,957.5M2211.5,837.3L2269.5,959.1M2211.5,840.3L2269.5,960.7M2211.5,862.0L2269.5,819.0M2211.5,865.0L2269.5,820.6M2211.5,868.0L2269.5,822.2M2211.5,871.0L2269.5,823.8M2211.5,862.0L2269.5,846.3M2211.5,865.0L2269.5,847.9M2211.5,868.0L2269.5,849.5M2211.5,871.0L2269.5,851.1M2211.5,862.0L2269.5,873.6M2211.5,865.0L2269.5,875.2M2211.5,868.0L2269.5,876.8M2211.5,871.0L2269.5,878.4M2211.5,862.0L2269.5,901.1M2211.5,865.0L2269.5,902.7M2211.5,868.0L2269.5,904.3M2211.5,871.0L2269.5,905.9M2211.5,862.0L2269.5,928.6M2211.5,865.0L2269.5,930.2M2211.5,868.0L2269.5,931.8M2211.5,871.0L2269.5,933.4M2211.5,862.0L2269.5,955.9M2211.5,865.0L2269.5,957.5M2211.5,868.0L2269.5,959.1M2211.5,871.0L2269.5,960.7M2211.5,900.2L2269.5,819.0M2211.5,903.2L2269.5,820.6M2211.5,906.2L2269.5,822.2M2211.5,909.2L2269.5,823.8M2211.5,900.2L2269.5,846.3M2211.5,903.2L2269.5,847.9M2211.5,906.2L2269.5,849.5M2211.5,909.2L2269.5,851.1M2211.5,900.2L2269.5,873.6M2211.5,903.2L2269.5,875.2M2211.5,906.2L2269.5,876.8M2211.5,909.2L2269.5,878.4M2211.5,900.2L2269.5,901.1M2211.5,903.2L2269.5,902.7M2211.5,906.2L2269.5,904.3M2211.5,909.2L2269.5,905.9M2211.5,900.2L2269.5,928.6M2211.5,903.2L2269.5,930.2M2211.5,906.2L2269.5,931.8M2211.5,909.2L2269.5,933.4M2211.5,900.2L2269.5,955.9M2211.5,903.2L2269.5,957.5M2211.5,906.2L2269.5,959.1M2211.5,909.2L2269.5,960.7M2211.5,936.1L2269.5,819.0M2211.5,939.1L2269.5,820.6M2211.5,942.1L2269.5,822.2M2211.5,945.1L2269.5,823.8M2211.5,936.1L2269.5,846.3M2211.5,939.1L2269.5,847.9M2211.5,942.1L2269.5,849.5M2211.5,945.1L2269.5,851.1M2211.5,936.1L2269.5,873.6M2211.5,939.1L2269.5,875.2M2211.5,942.1L2269.5,876.8M2211.5,945.1L2269.5,878.4M2211.5,936.1L2269.5,901.1M2211.5,939.1L2269.5,902.7M2211.5,942.1L2269.5,904.3M2211.5,945.1L2269.5,905.9M2211.5,936.1L2269.5,928.6M2211.5,939.1L2269.5,930.2M2211.5,942.1L2269.5,931.8M2211.5,945.1L2269.5,933.4M2211.5,936.1L2269.5,955.9M2211.5,939.1L2269.5,957.5M2211.5,942.1L2269.5,959.1M2211.5,945.1L2269.5,960.7M2281.5,819.0L2340.0,835.7M2281.5,820.6L2340.0,838.7M2281.5,822.2L2340.0,841.7M2281.5,823.8L2340.0,844.7M2281.5,819.0L2340.0,871.1M2281.5,820.6L2340.0,874.1M2281.5,822.2L2340.0,877.1M2281.5,823.8L2340.0,880.1M2281.5,819.0L2340.0,909.9M2281.5,820.6L2340.0,912.9M2281.5,822.2L2340.0,915.9M2281.5,823.8L2340.0,918.9M2281.5,819.0L2340.0,940.1M2281.5,820.6L2340.0,943.1M2281.5,822.2L2340.0,946.1M2281.5,823.8L2340.0,949.1M2281.5,846.3L2340.0,835.7M2281.5,847.9L2340.0,838.7M2281.5,849.5L2340.0,841.7M2281.5,851.1L2340.0,844.7M2281.5,846.3L2340.0,871.1M2281.5,847.9L2340.0,874.1M2281.5,849.5L2340.0,877.1M2281.5,851.1L2340.0,880.1M2281.5,846.3L2340.0,909.9M2281.5,847.9L2340.0,912.9M2281.5,849.5L2340.0,915.9M2281.5,851.1L2340.0,918.9M2281.5,846.3L2340.0,940.1M2281.5,847.9L2340.0,943.1M2281.5,849.5L2340.0,946.1M2281.5,851.1L2340.0,949.1M2281.5,873.6L2340.0,835.7M2281.5,875.2L2340.0,838.7M2281.5,876.8L2340.0,841.7M2281.5,878.4L2340.0,844.7M2281.5,873.6L2340.0,871.1M2281.5,875.2L2340.0,874.1M2281.5,876.8L2340.0,877.1M2281.5,878.4L2340.0,880.1M2281.5,873.6L2340.0,909.9M2281.5,875.2L2340.0,912.9M2281.5,876.8L2340.0,915.9M2281.5,878.4L2340.0,918.9M2281.5,873.6L2340.0,940.1M2281.5,875.2L2340.0,943.1M2281.5,876.8L2340.0,946.1M2281.5,878.4L2340.0,949.1M2281.5,901.1L2340.0,835.7M2281.5,902.7L2340.0,838.7M2281.5,904.3L2340.0,841.7M2281.5,905.9L2340.0,844.7M2281.5,901.1L2340.0,871.1M2281.5,902.7L2340.0,874.1M2281.5,904.3L2340.0,877.1M2281.5,905.9L2340.0,880.1M2281.5,901.1L2340.0,909.9M2281.5,902.7L2340.0,912.9M2281.5,904.3L2340.0,915.9M2281.5,905.9L2340.0,918.9M2281.5,901.1L2340.0,940.1M2281.5,902.7L2340.0,943.1M2281.5,904.3L2340.0,946.1M2281.5,905.9L2340.0,949.1M2281.5,928.6L2340.0,835.7M2281.5,930.2L2340.0,838.7M2281.5,931.8L2340.0,841.7M2281.5,933.4L2340.0,844.7M2281.5,928.6L2340.0,871.1M2281.5,930.2L2340.0,874.1M2281.5,931.8L2340.0,877.1M2281.5,933.4L2340.0,880.1M2281.5,928.6L2340.0,909.9M2281.5,930.2L2340.0,912.9M2281.5,931.8L2340.0,915.9M2281.5,933.4L2340.0,918.9M2281.5,928.6L2340.0,940.1M2281.5,930.2L2340.0,943.1M2281.5,931.8L2340.0,946.1M2281.5,933.4L2340.0,949.1M2281.5,955.9L2340.0,835.7M2281.5,957.5L2340.0,838.7M2281.5,959.1L2340.0,841.7M2281.5,960.7L2340.0,844.7M2281.5,955.9L2340.0,871.1M2281.5,957.5L2340.0,874.1M2281.5,959.1L2340.0,877.1M2281.5,960.7L2340.0,880.1M2281.5,955.9L2340.0,909.9M2281.5,957.5L2340.0,912.9M2281.5,959.1L2340.0,915.9M2281.5,960.7L2340.0,918.9M2281.5,955.9L2340.0,940.1M2281.5,957.5L2340.0,943.1M2281.5,959.1L2340.0,946.1M2281.5,960.7L2340.0,949.1" stroke="#0e0e0e" stroke-width="0.95" fill="none" stroke-opacity="0.95"/><circle cx="2204.5" cy="835.8" r="9" fill="#808080" stroke="#333" stroke-width="2"/><circle cx="2204.5" cy="866.5" r="9" fill="#808080" stroke="#333" stroke-width="2"/><circle cx="2204.5" cy="904.7" r="9" fill="#808080" stroke="#333" stroke-width="2"/><circle cx="2204.5" cy="940.5999999999999" r="9" fill="#808080" stroke="#333" stroke-width="2"/><circle cx="2347.0" cy="840.1999999999999" r="9" fill="#808080" stroke="#333" stroke-width="2"/><circle cx="2347.0" cy="875.5999999999999" r="9" fill="#808080" stroke="#333" stroke-width="2"/><circle cx="2347.0" cy="914.4" r="9" fill="#808080" stroke="#333" stroke-width="2"/><circle cx="2347.0" cy="944.5999999999999" r="9" fill="#808080" stroke="#333" stroke-width="2"/><circle cx="2275.5" cy="821.4" r="8" fill="#c00000" stroke="#400" stroke-width="1.2"/><circle cx="2275.5" cy="848.6999999999999" r="8" fill="#c00000" stroke="#400" stroke-width="1.2"/><circle cx="2275.5" cy="876.0" r="8" fill="#c00000" stroke="#400" stroke-width="1.2"/><circle cx="2275.5" cy="903.5" r="8" fill="#c00000" stroke="#400" stroke-width="1.2"/><circle cx="2275.5" cy="931.0" r="8" fill="#c00000" stroke="#400" stroke-width="1.2"/><circle cx="2275.5" cy="958.3" r="8" fill="#c00000" stroke="#400" stroke-width="1.2"/><rect x="1842" y="801.6" width="206" height="99.2" fill="#c0504d" stroke="#3a3a3a" stroke-width="2.5"/><text x="1946" y="865" font-family='"Liberation Serif", serif' font-size="46" font-weight="normal" text-anchor="middle" fill="#f6e6e6" textLength="88" lengthAdjust="spacing" >tanh</text><circle cx="1645.6" cy="851.7" r="39.5" fill="#fff" stroke="#555" stroke-width="2.3"/><path d="M1606.1,851.7H1685.1M1645.6,812.2V891.2" stroke="#222" stroke-width="2.1"/><circle cx="2545" cy="851.4" r="39.5" fill="#fff" stroke="#555" stroke-width="2.3"/><text x="2545" y="865.4" font-family='"Liberation Serif", serif' font-size="46" font-weight="normal" text-anchor="middle" fill="#111" >σ</text><circle cx="3003.4" cy="851.6" r="39.5" fill="#fff" stroke="#555" stroke-width="2.3"/><path d="M2963.9,851.6H3042.9M3003.4,812.1V891.1" stroke="#222" stroke-width="2.1"/><circle cx="2760.6" cy="463.9" r="39.5" fill="#fff" stroke="#555" stroke-width="2.3"/><path d="M2732.7,436.0L2788.5,491.8M2788.5,436.0L2732.7,491.8" stroke="#333" stroke-width="2.1"/><circle cx="2760.6" cy="1231.8" r="39.5" fill="#fff" stroke="#555" stroke-width="2.3"/><path d="M2732.7,1203.9L2788.5,1259.7M2788.5,1203.9L2732.7,1259.7" stroke="#333" stroke-width="2.1"/><circle cx="2416.9" cy="1366.2" r="40" fill="#fff" stroke="#555" stroke-width="2.3"/><path d="M2376.9,1366.2H2456.9M2416.9,1326.2V1406.2" stroke="#222" stroke-width="2.1"/><circle cx="2416.9" cy="1515.4" r="40" fill="#fff" stroke="#555" stroke-width="2.3"/><path d="M2388.6,1487.1L2445.2,1543.7M2445.2,1487.1L2388.6,1543.7" stroke="#333" stroke-width="2.1"/><circle cx="2416.9" cy="1670.5" r="40" fill="#fff" stroke="#555" stroke-width="2.3"/><text x="2416.9" y="1684.5" font-family='"Liberation Serif", serif' font-size="46" font-weight="normal" text-anchor="middle" fill="#111" >σ</text><rect x="2731.8" y="698.8" width="57.2" height="42.1" fill="#f2f2f2" stroke="#3a3a3a" stroke-width="2"/><rect x="2731.8" y="740.9" width="57.2" height="43.3" fill="#d9d9d9" stroke="#3a3a3a" stroke-width="2"/><rect x="2731.8" y="784.2" width="57.2" height="41.8" fill="#595959" stroke="#3a3a3a" stroke-width="2"/><rect x="2731.8" y="826" width="57.2" height="42.0" fill="#0d0d0d" stroke="#3a3a3a" stroke-width="2"/><rect x="2731.8" y="868" width="57.2" height="41.0" fill="#f2f2f2" stroke="#3a3a3a" stroke-width="2"/><rect x="2731.8" y="909" width="57.2" height="42.7" fill="#ffffff" stroke="#3a3a3a" stroke-width="2"/><rect x="2731.8" y="951.7" width="57.2" height="42.7" fill="#bfbfbf" stroke="#3a3a3a" stroke-width="2"/><rect x="2731.8" y="994.4" width="57.2" height="43.4" fill="#7f7f7f" stroke="#3a3a3a" stroke-width="2"/><text x="266" y="189.5" font-family='"Liberation Serif", serif' font-size="45" font-weight="bold" text-anchor="start" fill="#0a0a0a" textLength="141" lengthAdjust="spacing" >Region</text><text x="248.5" y="245" font-family='"Liberation Serif", serif' font-size="45" font-weight="bold" text-anchor="start" fill="#0a0a0a" textLength="175" lengthAdjust="spacing" >Proposal</text><text x="250.5" y="300" font-family='"Liberation Serif", serif' font-size="45" font-weight="bold" text-anchor="start" fill="#0a0a0a" textLength="173" lengthAdjust="spacing" >Network</text><text x="266" y="1451" font-family='"Liberation Serif", serif' font-size="45" font-weight="bold" text-anchor="start" fill="#0a0a0a" textLength="141" lengthAdjust="spacing" >Region</text><text x="248.5" y="1506" font-family='"Liberation Serif", serif' font-size="45" font-weight="bold" text-anchor="start" fill="#0a0a0a" textLength="175" lengthAdjust="spacing" >Proposal</text><text x="250.5" y="1562" font-family='"Liberation Serif", serif' font-size="45" font-weight="bold" text-anchor="start" fill="#0a0a0a" textLength="173" lengthAdjust="spacing" >Network</text><text x="624" y="190" font-family='"Liberation Serif", serif' font-size="44" font-weight="normal" text-anchor="start" fill="#111" textLength="93" lengthAdjust="spacing" >BEV</text><text x="624" y="1451" font-family='"Liberation Serif", serif' font-size="44" font-weight="normal" text-anchor="start" fill="#111" textLength="93" lengthAdjust="spacing" >BEV</text><text x="885" y="70.6" font-family='"Liberation Serif", serif' font-size="45" font-weight="normal" text-anchor="start" fill="#111" textLength="372" lengthAdjust="spacing" >Cross-Scale Feature</text><text x="875" y="1658.2" font-family='"Liberation Serif", serif' font-size="45" font-weight="normal" text-anchor="start" fill="#111" textLength="393" lengthAdjust="spacing" >Cross-Frame Feature</text><text x="77" y="601.8" font-family='"Liberation Serif", serif' font-size="45" font-weight="bold" text-anchor="start" fill="#0a0a0a" textLength="520" lengthAdjust="spacing" >Proposal Aware Sampling</text><text x="3067" y="771" font-family='"Liberation Serif", serif' font-size="45" font-weight="normal" text-anchor="start" fill="#111" textLength="174" lengthAdjust="spacing" >Keypoint</text><text x="3090" y="826.3" font-family='"Liberation Serif", serif' font-size="45" font-weight="normal" text-anchor="start" fill="#111" textLength="127" lengthAdjust="spacing" >feature</text><text x="2592" y="958.3" font-family='"Liberation Serif", serif' font-size="44" font-weight="normal" text-anchor="start" fill="#111" textLength="137" lengthAdjust="spacing" >Weight</text><text x="2605" y="1014.2" font-family='"Liberation Serif", serif' font-size="44" font-weight="normal" text-anchor="start" fill="#111" textLength="113" lengthAdjust="spacing" >vector</text><text x="2482" y="1382" font-family='"Liberation Serif", serif' font-size="46" font-weight="normal" text-anchor="start" fill="#111" textLength="426" lengthAdjust="spacing" >Element-wise addition</text><text x="2482" y="1529.6" font-family='"Liberation Serif", serif' font-size="46" font-weight="normal" text-anchor="start" fill="#111" textLength="535" lengthAdjust="spacing" >Element-wise multiplication</text><text x="2484" y="1685.4" font-family='"Liberation Serif", serif' font-size="46" font-weight="normal" text-anchor="start" fill="#111" textLength="325" lengthAdjust="spacing" >Sigmoid function</text></svg></body></html>
